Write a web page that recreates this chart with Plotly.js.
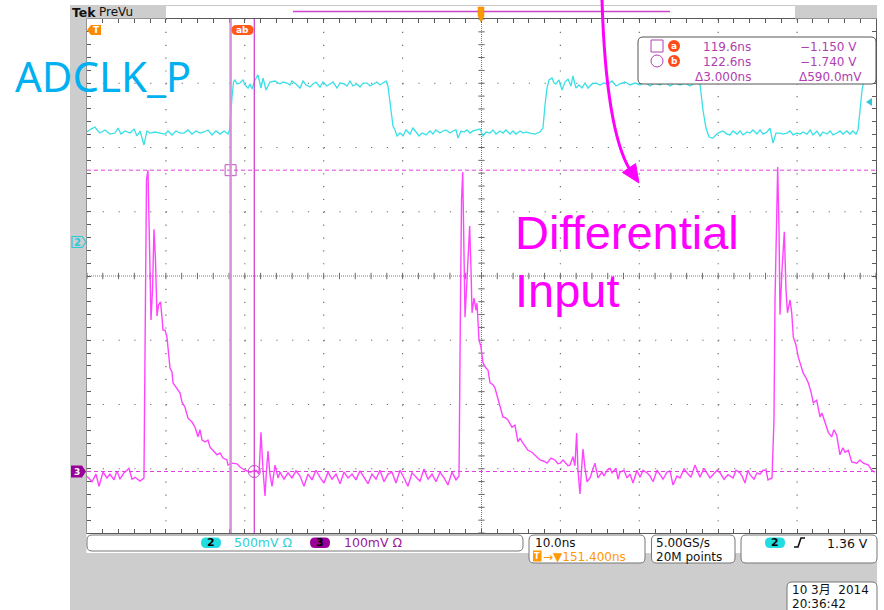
<!DOCTYPE html>
<html><head><meta charset="utf-8">
<script src="https://cdn.plot.ly/plotly-3.0.1.min.js"></script>
<style>html,body{margin:0;padding:0;background:#fff;overflow:hidden}#chart{width:884px;height:610px}</style>
</head><body><div id="chart"></div>
<script>
// ---------------- DATA ----------------
// Channel 2 (ADCLK_P), time in ns, volts relative to ch2 marker
const ch2Time = [101.40,101.53,101.91,102.41,102.79,103.05,103.68,104.31,104.95,105.33,105.71,106.22,106.85,107.36,107.74,108.12,108.62,109.00,109.38,110.02,110.65,111.29,111.67,112.17,112.68,113.19,113.69,114.20,114.71,115.21,115.72,116.23,116.73,117.24,117.75,118.26,118.76,119.27,119.46,119.59,119.78,119.97,120.16,120.41,120.79,121.17,121.42,121.81,122.06,122.31,122.69,123.07,123.45,123.71,124.09,124.59,125.23,125.86,126.24,126.75,127.13,127.38,127.89,128.40,128.78,129.16,129.66,130.04,130.42,130.93,131.31,131.82,132.20,132.58,133.09,133.47,133.97,134.35,134.73,135.11,135.62,136.00,136.38,136.89,137.27,137.65,138.15,138.53,138.92,139.30,139.55,139.93,140.18,140.44,140.69,141.07,141.45,141.83,142.34,142.72,143.10,143.48,143.86,144.37,144.87,145.25,145.63,146.14,146.52,146.90,147.41,147.79,148.17,148.42,148.80,149.18,149.56,149.94,150.32,150.70,151.21,151.59,151.97,152.48,152.86,153.24,153.74,154.12,154.50,155.01,155.39,155.77,156.28,156.66,157.04,157.55,158.18,158.81,159.19,159.45,159.70,159.96,160.34,160.59,160.84,161.22,161.60,161.98,162.36,162.74,162.99,163.37,163.75,164.14,164.52,164.90,165.40,165.91,166.42,166.92,167.43,167.94,168.45,168.95,169.59,170.22,170.85,171.49,172.12,172.76,173.39,174.03,174.66,175.29,175.93,176.56,177.19,177.83,178.46,179.09,179.47,179.85,180.24,180.74,181.37,182.01,182.51,182.89,183.28,183.78,184.16,184.54,185.05,185.43,185.81,186.32,186.70,187.08,187.58,187.96,188.35,188.73,189.23,189.61,190.12,190.50,190.88,191.39,191.77,192.15,192.66,193.04,193.42,193.92,194.30,194.68,195.19,195.57,195.95,196.46,196.84,197.22,197.72,198.10,198.48,198.86,199.12,199.38,199.63,199.88,200.26,200.77,201.40];
const ch2Volts = [0.856,0.864,0.879,0.895,0.864,0.848,0.872,0.840,0.848,0.887,0.840,0.864,0.848,0.879,0.825,0.864,0.755,0.864,0.848,0.856,0.848,0.840,0.864,0.833,0.864,0.848,0.848,0.872,0.840,0.864,0.848,0.856,0.872,0.833,0.864,0.840,0.864,0.840,0.872,1.004,1.128,1.245,1.261,1.230,1.237,1.261,1.222,1.198,1.230,1.191,1.261,1.300,1.198,1.276,1.183,1.245,1.253,1.230,1.245,1.237,1.222,1.253,1.230,1.198,1.253,1.222,1.206,1.230,1.245,1.206,1.245,1.214,1.230,1.245,1.198,1.237,1.230,1.214,1.253,1.214,1.230,1.206,1.237,1.237,1.214,1.230,1.245,1.222,1.237,1.253,1.214,1.004,0.903,0.872,0.825,0.848,0.825,0.872,0.840,0.887,0.856,0.825,0.848,0.833,0.864,0.840,0.872,0.848,0.864,0.872,0.848,0.864,0.872,0.809,0.864,0.856,0.872,0.848,0.864,0.872,0.879,0.825,0.856,0.848,0.872,0.840,0.864,0.848,0.872,0.840,0.864,0.840,0.864,0.848,0.856,0.848,0.840,0.856,0.887,1.066,1.198,1.261,1.276,1.237,1.230,1.261,1.183,1.245,1.268,1.214,1.292,1.198,1.222,1.198,1.237,1.198,1.230,1.237,1.222,1.237,1.230,1.253,1.214,1.230,1.245,1.222,1.237,1.222,1.245,1.214,1.237,1.222,1.245,1.214,1.237,1.222,1.237,1.214,1.237,1.230,1.027,0.887,0.817,0.809,0.848,0.864,0.840,0.833,0.864,0.840,0.864,0.833,0.856,0.848,0.872,0.840,0.872,0.840,0.856,0.887,0.770,0.848,0.848,0.840,0.848,0.864,0.833,0.848,0.840,0.856,0.840,0.872,0.833,0.864,0.825,0.856,0.840,0.864,0.833,0.848,0.864,0.840,0.864,0.840,0.864,0.840,0.872,1.027,1.183,1.261,1.237,1.245,1.237];

// Channel 3 (Differential Input), time in ns, mV relative to ch3 marker
const ch3Time = [101.40,101.53,102.03,102.54,102.92,103.43,103.93,104.31,104.82,105.20,105.58,106.09,106.47,106.72,107.10,107.48,108.12,108.50,108.62,108.81,108.94,109.13,109.32,109.51,109.70,109.89,110.08,110.27,110.46,110.72,110.91,111.03,111.29,111.54,111.92,112.17,112.30,112.80,113.19,113.44,113.82,114.20,114.71,115.09,115.47,115.72,115.98,116.36,116.73,116.99,117.37,117.88,118.26,118.64,119.14,119.27,119.78,120.41,120.79,121.42,122.06,122.82,123.20,123.45,123.71,123.96,124.15,124.34,124.59,124.85,125.23,125.61,125.86,126.37,126.88,127.38,127.89,128.40,128.90,129.41,129.92,130.42,130.93,131.44,131.94,132.45,132.96,133.47,133.97,134.48,134.99,135.49,136.00,136.51,137.01,137.52,138.03,138.53,139.04,139.55,140.06,140.56,141.07,141.58,142.08,142.59,143.10,143.60,144.11,144.62,145.13,145.63,146.14,146.65,147.15,147.66,148.17,148.55,148.74,148.87,149.02,149.18,149.31,149.56,149.90,150.07,150.20,150.45,150.70,150.83,151.08,151.33,151.59,151.97,152.22,152.48,152.86,153.11,153.49,153.74,154.12,154.50,154.76,155.26,155.64,156.02,156.28,156.66,157.04,157.29,157.80,158.18,158.81,159.32,159.70,160.21,160.71,161.09,161.35,161.73,161.98,162.36,162.61,162.99,163.24,163.46,163.63,163.88,164.07,164.26,164.52,164.77,165.15,165.78,166.16,166.67,166.92,167.31,167.68,167.94,168.45,168.70,168.95,169.46,169.84,170.22,170.60,171.11,171.49,171.87,172.38,172.76,173.14,173.65,174.03,174.41,174.91,175.29,175.67,176.18,176.56,177.07,177.45,177.95,178.46,179.09,179.60,179.98,180.36,180.74,181.25,181.63,182.14,182.64,183.28,183.66,184.16,184.42,184.80,185.18,185.43,185.94,186.32,186.70,187.08,187.46,187.71,188.22,188.47,188.60,188.79,188.94,189.11,189.23,189.49,189.78,189.99,190.18,190.50,190.72,190.92,191.26,191.55,191.89,192.18,192.52,192.82,193.16,193.45,193.88,194.30,194.55,194.93,195.35,195.78,196.07,196.41,196.83,197.21,197.47,197.89,198.32,198.95,199.38,199.80,200.43,200.86,201.27];
const ch3mV = [-8,-9,-16,-4,-23,-1,-10,-4,-13,1,-12,-2,2,5,-12,-9,-15,-10,-10,267,454,469,360,236,282,377,329,242,259,264,239,220,220,209,161,155,138,130,122,108,100,83,77,69,54,65,49,46,49,38,33,26,29,21,18,10,13,12,7,2,-1,2,-4,61,2,-38,2,32,-5,-23,10,-10,-1,-12,-2,-10,1,-7,-23,-4,-13,2,-9,-18,-1,-12,-4,-19,-1,-10,-4,-13,1,-10,-19,-4,-12,2,-16,-4,-1,-18,2,-10,-23,-2,-9,-15,4,-12,-4,-16,-1,-10,-21,-1,-13,-7,267,423,466,360,240,298,382,314,247,270,251,262,205,194,169,161,158,138,135,130,114,100,85,83,80,69,72,46,52,44,38,33,30,26,18,16,13,21,18,12,13,18,15,9,10,23,9,60,2,-35,2,35,5,-16,-10,13,-10,-1,-7,2,5,-2,5,-12,-1,2,-10,-4,-18,2,-9,2,-2,-7,-16,2,-5,-12,-1,1,-21,-7,-10,4,-2,-9,10,-9,5,-2,-10,-5,2,-2,-12,-5,-10,2,-2,-7,-18,2,-5,-12,-2,-4,2,2,-13,-10,80,267,423,474,376,244,314,373,283,247,267,247,209,197,178,166,153,146,138,124,107,111,85,91,77,61,54,65,57,26,37,30,33,15,13,18,13,10,2,-1];

// Cursors
const cursorTimes = [119.6, 122.6];      // ns
const cursorLevels = [469, 0];           // mV on ch3
const readoutTimes = ['119.6ns', '122.6ns'];
const readoutVolts = ['\u22121.150 V', '\u22121.740 V'];
const readoutDelta = ['\u03943.000ns', '\u0394590.0mV'];

// Scope settings / labels
const timePerDiv = 10;            // ns/div
const horizPos = 151.4;           // ns at screen centre
const ch2Range = [-2.2646, 1.7354];   // V across 8 div (500 mV/div)
const ch3Range = [-95.7, 704.3];      // mV across 8 div (100 mV/div)
const ch2Scale = '500mV \u03a9', ch3Scale = '100mV \u03a9';
const timeScaleTxt = '10.0ns', horizPosTxt = '\u2192\u25bc151.400ns';
const sampleRateTxt = '5.00GS/s', recordLenTxt = '20M points';
const trigLevelTxt = '1.36 V';
const dateTxt = '10 3\u6708  2014', clockTxt = '20:36:42';
const labelClk = 'ADCLK_P', labelIn = ['Differential', 'Input'];

// ---------------- LAYOUT ----------------
const W = 884, H = 610;
const gx0 = 87, gx1 = 876, gy0 = 19, gy1 = 533;
const cyan = '#3ae0e6', mag = '#ff44ff', purple = '#b040b0';
const F = 'DejaVu Sans';

const shapes = [];
const annotations = [];
function pRect(x0,y0,x1,y1,fill,lc,lw,layer){shapes.push({type:'rect',xref:'x2',yref:'y4',x0,y0,x1,y1,fillcolor:fill,line:{color:lc||'rgba(0,0,0,0)',width:lw||0},layer:layer||'above'});}
function pPath(path,fill,lc,lw){shapes.push({type:'path',xref:'x2',yref:'y4',path,fillcolor:fill||'rgba(0,0,0,0)',line:{color:lc||'rgba(0,0,0,0)',width:lw||0},layer:'above'});}
function pLine(x0,y0,x1,y1,c,w,dash){shapes.push({type:'line',xref:'x2',yref:'y4',x0,y0,x1,y1,line:{color:c,width:w,dash:dash||'solid'},layer:'above'});}
function rr(x0,y0,x1,y1,r){return `M${x0+r},${y0} L${x1-r},${y0} Q${x1},${y0} ${x1},${y0+r} L${x1},${y1-r} Q${x1},${y1} ${x1-r},${y1} L${x0+r},${y1} Q${x0},${y1} ${x0},${y1-r} L${x0},${y0+r} Q${x0},${y0} ${x0+r},${y0} Z`;}
function txt(x,y,text,size,color,o){annotations.push(Object.assign({xref:'x2',yref:'y4',x,y,text,showarrow:false,xanchor:'left',yanchor:'middle',borderpad:0,font:{family:F,size,color}},o||{}));}

// gray frame pieces
const gray = '#cdcdcd';
pRect(70,5,86.5,610,gray);
pRect(70,553,877,610,gray);
pRect(70,5,166,18.5,gray);
pRect(795,5,877,18.5,gray);
pLine(166,5.5,795,5.5,'#c8c8c8',1);
// header
txt(71,12,'<b>Tek</b>',12,'#111',{font:{family:'DejaVu Sans',size:12.5,color:'#111'}});
txt(98,12,'PreVu',12,'#111');
pLine(293,11.5,670,11.5,'#cc44cc',1.5);
pPath('M478,7 L484,7 L484,16 L481,22 L478,16 Z','#ff9900','#e08000',0.5);

// dotted graticule (one dot every 1/5 division)
const tLeft = horizPos-5*timePerDiv, tRight = horizPos+5*timePerDiv;
for(let i=-4;i<=4;i++){ if(i===0) continue; const t=horizPos+i*timePerDiv;
  shapes.push({type:'line',xref:'x',yref:'y',x0:t,x1:t,y0:4,y1:-4,line:{color:'#6e6e6e',width:1.2,dash:'1.2px,11.65px'},layer:'below'}); }
for(let j=-3;j<=3;j++){ if(j===0) continue;
  shapes.push({type:'line',xref:'x',yref:'y',x0:tLeft,x1:tRight,y0:j,y1:j,line:{color:'#6e6e6e',width:1.2,dash:'1.2px,14.58px'},layer:'below'}); }

// centre graticule lines
shapes.push({type:'line',xref:'x',yref:'y',x0:horizPos,x1:horizPos,y0:-4,y1:4,line:{color:'#7a7a7a',width:1,dash:'1px,1px'},layer:'below'});
shapes.push({type:'line',xref:'x',yref:'y',x0:tLeft,x1:tRight,y0:0,y1:0,line:{color:'#7a7a7a',width:1,dash:'1px,1px'},layer:'below'});
for(let i=-25;i<=25;i++){const t=horizPos+i*timePerDiv/5;shapes.push({type:'line',xref:'x',yref:'y',x0:t,x1:t,y0:-0.05,y1:0.05,line:{color:'#6a6a6a',width:1},layer:'below'});}
for(let j=-20;j<=20;j++){const v=j*0.2;shapes.push({type:'line',xref:'x',yref:'y',x0:horizPos-0.4,x1:horizPos+0.4,y0:v,y1:v,line:{color:'#6a6a6a',width:1},layer:'below'});}

// cursor lines
shapes.push({type:'line',xref:'x',yref:'y2',x0:tLeft,x1:tRight,y0:cursorLevels[0],y1:cursorLevels[0],line:{color:'#e040e0',width:1,dash:'4px,3px'},layer:'above'});
shapes.push({type:'line',xref:'x',yref:'y2',x0:tLeft,x1:tRight,y0:cursorLevels[1],y1:cursorLevels[1],line:{color:'#e040e0',width:1,dash:'4px,3px'},layer:'above'});
shapes.push({type:'line',xref:'x',yref:'y',x0:cursorTimes[0],x1:cursorTimes[0],y0:-4,y1:4,line:{color:'#d690d6',width:2.5},layer:'above'});
shapes.push({type:'line',xref:'x',yref:'y',x0:cursorTimes[1],x1:cursorTimes[1],y0:-4,y1:4,line:{color:'#cc33cc',width:1.2},layer:'above'});

// markers on left / right
pPath('M87,30 L91,25 L101,25 L101,35 L91,35 Z','#ff8a00');
txt(96,30,'<b>T</b>',9,'#fff',{xanchor:'center'});
pPath(rr(231.5,25,253.5,35,5),'#ff5a1a');
txt(242.5,30,'<b>ab</b>',9,'#fff',{xanchor:'center'});
pPath('M72,236.5 L82,236.5 L86,242 L82,247.5 L72,247.5 Z','rgba(0,0,0,0)','#2cc8d8',1.2);
txt(77.5,242,'<b>2</b>',10,'#2cc8d8',{xanchor:'center'});
pPath('M71,465.5 L82,465.5 L86,471.5 L82,477.5 L71,477.5 Z','#990099');
txt(77,471.5,'<b>3</b>',9,'#fff',{xanchor:'center'});
pPath('M866,102 L872,98 L872,106 Z','#2cc8d8');

// readout box
pPath(rr(638,37,876,84,5),'#ffffff','#555555',1);
pRect(651,40,663,52,'rgba(0,0,0,0)',purple,1);
shapes.push({type:'circle',xref:'x2',yref:'y4',x0:651,y0:55,x1:663,y1:67,line:{color:purple,width:1},layer:'above'});
shapes.push({type:'circle',xref:'x2',yref:'y4',x0:668,y0:40,x1:680,y1:52,fillcolor:'#ff4a1a',line:{width:0},layer:'above'});
shapes.push({type:'circle',xref:'x2',yref:'y4',x0:668,y0:55,x1:680,y1:67,fillcolor:'#ff4a1a',line:{width:0},layer:'above'});
txt(674,46,'<b>a</b>',9,'#fff',{xanchor:'center'});
txt(674,61,'<b>b</b>',9,'#fff',{xanchor:'center'});
txt(702,46.5,readoutTimes[0],12,purple);
txt(702,61.5,readoutTimes[1],12,purple);
txt(858,46.5,readoutVolts[0],12,purple,{xanchor:'right'});
txt(858,61.5,readoutVolts[1],12,purple,{xanchor:'right'});
txt(694,77,readoutDelta[0],12,purple);
txt(863,77,readoutDelta[1],12,purple,{xanchor:'right'});

// bottom status boxes
pPath(rr(87,535,523,551,5),'#ffffff','#777777',1);
pPath(rr(201,537.5,221,548,5),'#22dde0');
txt(211,542.7,'<b>2</b>',11,'#000',{xanchor:'center'});
txt(233,542.7,ch2Scale,12.5,'#30d0d8');
pPath(rr(310,537.5,330,548,5),'#990099');
txt(320,542.7,'<b>3</b>',11,'#000',{xanchor:'center'});
txt(343,542.7,ch3Scale,12.5,'#9b189b');

pPath(rr(529,535,645,563,5),'#ffffff','#777777',1);
txt(534,542.5,timeScaleTxt,12,'#111');
pRect(533,550.5,541.5,561.5,'#ff9900');
txt(537.3,556,'<b>T</b>',8,'#fff',{xanchor:'center'});
txt(542,556.5,horizPosTxt,12,'#ff9900');

pPath(rr(651.5,535,735,563,5),'#ffffff','#777777',1);
txt(655,542.5,sampleRateTxt,12,'#111');
txt(655,556.5,recordLenTxt,12,'#111');

pPath(rr(741,535,877,563,5),'#ffffff','#777777',1);
pPath(rr(765,537.5,785,548,5),'#22dde0');
txt(775,542.7,'<b>2</b>',11,'#000',{xanchor:'center'});
pPath('M794,547 L798,547 L801,538 L805,538','rgba(0,0,0,0)','#111',1.6);
txt(869,543,trigLevelTxt,12.5,'#111',{xanchor:'right'});

pPath(rr(787,582,877,616,5),'#ffffff','#777777',1);
txt(791,589.5,dateTxt,12,'#111',{font:{family:'DejaVu Sans, Noto Sans CJK SC',size:12,color:'#111'}});
txt(791,603.5,clockTxt,12,'#111');

// hand-drawn annotations
pPath('M602,0 Q606,130 630,170','rgba(0,0,0,0)','#ff00ff',3);
pPath('M639,183 L622.4,172.4 L635.6,163.6 Z','#ff00ff','#ff00ff',1);
txt(14,75,labelClk,42,'#00b0f0',{font:{family:'Noto Sans',size:42,color:'#00b0f0'}});
txt(514,232,labelIn[0],47,'#ff00ff',{font:{family:'Liberation Sans',size:47,color:'#ff00ff'}});
txt(514,290.5,labelIn[1],47,'#ff00ff',{font:{family:'Liberation Sans',size:47,color:'#ff00ff'}});

const lineC = '#5a5a5a';
const layout = {
  width: W, height: H, margin: {l:0,r:0,t:0,b:0,pad:0},
  paper_bgcolor: '#ffffff', plot_bgcolor: 'rgba(0,0,0,0)', showlegend: false,
  xaxis: {domain:[gx0/W, gx1/W], range:[tLeft, tRight], tick0:horizPos, dtick:timePerDiv,
    showgrid:false, zeroline:false,
    showline:true, linecolor:lineC, linewidth:1, mirror:'ticks', ticks:'inside', ticklen:4, tickcolor:lineC, tickwidth:1,
    minor:{tick0:horizPos, dtick:timePerDiv/5, ticks:'inside', ticklen:4, tickcolor:lineC, tickwidth:1, showgrid:false},
    showticklabels:false, anchor:'y', fixedrange:true},
  yaxis: {domain:[(H-gy1)/H, (H-gy0)/H], range:[-4,4], tick0:0, dtick:1,
    showgrid:false, zeroline:false,
    showline:true, linecolor:lineC, linewidth:1, mirror:'ticks', ticks:'inside', ticklen:4, tickcolor:lineC, tickwidth:1,
    minor:{tick0:0, dtick:0.2, ticks:'inside', ticklen:4, tickcolor:lineC, tickwidth:1, showgrid:false},
    showticklabels:false, anchor:'x', fixedrange:true},
  yaxis2: {overlaying:'y', anchor:'x', range:ch3Range, visible:false, fixedrange:true},
  yaxis3: {overlaying:'y', anchor:'x', range:ch2Range, visible:false, fixedrange:true},
  xaxis2: {domain:[0,1], range:[0,W], visible:false, anchor:'y4', fixedrange:true},
  yaxis4: {domain:[0,1], range:[H,0], visible:false, anchor:'x2', fixedrange:true},
  shapes, annotations
};

const traces = [
  {x:[0], y:[0], xaxis:'x2', yaxis:'y4', mode:'markers', marker:{opacity:0}, hoverinfo:'skip'},
  {x:ch2Time, y:ch2Volts, xaxis:'x', yaxis:'y3', mode:'lines', line:{color:cyan, width:1.3}, hoverinfo:'skip'},
  {x:ch3Time, y:ch3mV, xaxis:'x', yaxis:'y2', mode:'lines', line:{color:mag, width:1.4}, hoverinfo:'skip'},
  {x:[cursorTimes[0]], y:[cursorLevels[0]], xaxis:'x', yaxis:'y2', mode:'markers', marker:{symbol:'square-open', size:11, color:'#c050c0', line:{width:1}}, hoverinfo:'skip'},
  {x:[cursorTimes[1]], y:[cursorLevels[1]], xaxis:'x', yaxis:'y2', mode:'markers', marker:{symbol:'circle-open', size:12, color:'#c050c0', line:{width:1}}, hoverinfo:'skip'}
];

Plotly.newPlot('chart', traces, layout, {displayModeBar:false, staticPlot:true});
</script>
</body></html>
